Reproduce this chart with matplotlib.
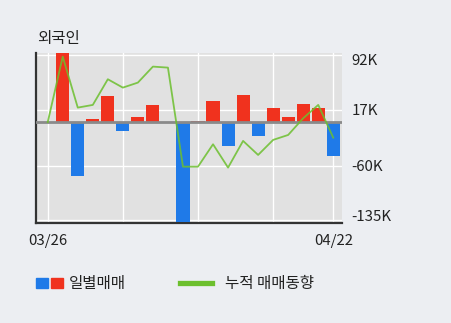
import matplotlib.pyplot as plt
import matplotlib.transforms as mtransforms
from matplotlib.patches import Rectangle
from matplotlib.lines import Line2D

plt.rcParams['font.family'] = ['Noto Sans CJK KR', 'DejaVu Sans']

dates = ['03/26', '03/27', '03/28', '03/29', '04/01', '04/02', '04/03', '04/04',
         '04/05', '04/08', '04/09', '04/10', '04/11', '04/12', '04/15', '04/16',
         '04/17', '04/18', '04/19', '04/22']
daily = [0, 100, -73.4, 4.5, 36.2, -11.5, 7.3, 23.8, 0, -136.7,
         1.8, 29.3, -32.2, 37.6, -18.4, 20.1, 7.7, 25.2, 20.1, -45.9]
cumulative = [0, 90.2, 20.1, 23.8, 59.1, 47.6, 54.5, 76.5, 75.1, -61.1,
              -61.1, -30.3, -62.4, -25.7, -45, -24.3, -17.5, 5.5, 23.8, -21.2]
ytick_vals = [92, 17, -60, -135]
ytick_labels = ['92K', '17K', '-60K', '-135K']

BG = '#eceef2'
PLOT_BG = '#e1e1e1'
RED = '#f0321e'
BLUE = '#1f7ae8'
GREEN = '#6cbf2e'

fig = plt.figure(figsize=(4.51, 3.23), dpi=100, facecolor=BG)
ax = fig.add_axes([0.0798, 0.3087, 0.6778, 0.5263], facecolor=PLOT_BG)

x = list(range(len(dates)))
colors = [RED if v >= 0 else BLUE for v in daily]
ax.bar(x, daily, width=0.87, color=colors, zorder=3)
ax.axhline(0, color='#8a8a8a', lw=2, zorder=4)
ax.plot(x, cumulative, color=GREEN, lw=1.3, alpha=0.85, zorder=5)

ax.set_xlim(-0.78, 19.56)
ax.set_ylim(-139, 94.8)

ax.set_xticks([0, 5, 10, 15, 19])
ax.set_xticklabels(['03/26', '', '', '', '04/22'])
ax.set_yticks(ytick_vals)
ax.set_yticklabels(ytick_labels)
ax.yaxis.tick_right()
ax.tick_params(length=0, labelsize=10.8, colors='#222222')
ax.tick_params(axis='y', pad=7)
ax.tick_params(axis='x', pad=8)
ax.grid(True, color='white', lw=1, zorder=1)

# pull outer labels inwards like the original
ylabels = ax.get_yticklabels()
ylabels[0].set_transform(ylabels[0].get_transform() +
                         mtransforms.ScaledTranslation(0, -4 / 100, fig.dpi_scale_trans))
ylabels[-1].set_transform(ylabels[-1].get_transform() +
                          mtransforms.ScaledTranslation(0, 5 / 100, fig.dpi_scale_trans))

for side in ['top', 'right']:
    ax.spines[side].set_visible(False)
for side in ['left', 'bottom']:
    ax.spines[side].set_color('#333333')
    ax.spines[side].set_linewidth(1.6)

fig.text(37 / 451, 1 - 39 / 323, '외국인', fontsize=11.2, va='center', ha='left', color='#222222')

# legend
fig.patches.append(Rectangle((36 / 451, 1 - 288 / 323), 11.5 / 451, 10 / 323,
                             transform=fig.transFigure, color=BLUE))
fig.patches.append(Rectangle((51 / 451, 1 - 288 / 323), 11.5 / 451, 10 / 323,
                             transform=fig.transFigure, color=RED))
fig.text(69 / 451, 1 - 283 / 323, '일별매매', fontsize=11.2, va='center', ha='left', color='#222222')
fig.lines.append(Line2D([180 / 451, 212 / 451], [1 - 283 / 323, 1 - 283 / 323],
                        transform=fig.transFigure, color=GREEN, lw=3.8))
fig.text(225 / 451, 1 - 283 / 323, '누적 매매동향', fontsize=11.2, va='center', ha='left', color='#222222')

fig.savefig('out.png', dpi=100, facecolor=BG)
